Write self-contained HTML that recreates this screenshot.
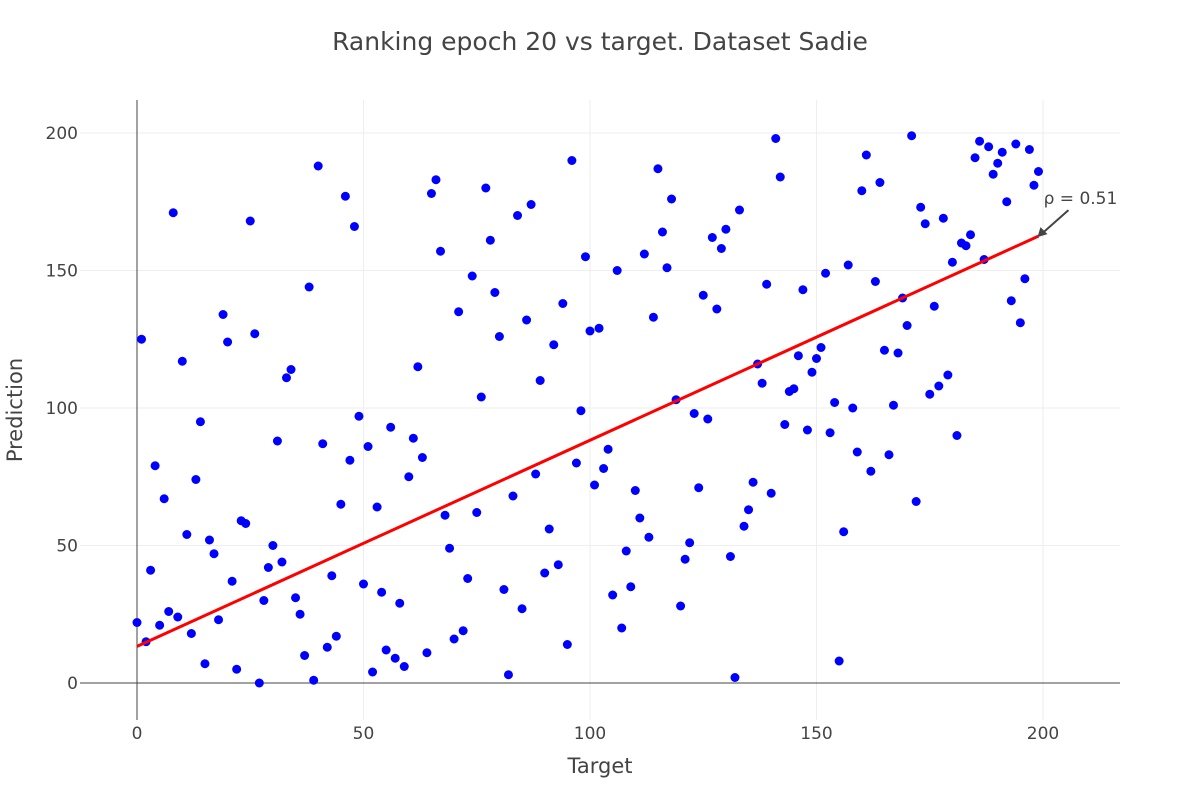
<!DOCTYPE html>
<html><head><meta charset="utf-8">
<style>
body{margin:0;background:#fff;}
svg{display:block;font-family:"DejaVu Sans","Liberation Sans",sans-serif;}
</style></head>
<body>
<svg id="chart" width="1200" height="800" viewBox="0 0 1200 800">
<text x="600" y="50" text-anchor="middle" font-size="25" fill="#444">Ranking epoch 20 vs target. Dataset Sadie</text>
<g id="grid"></g>
<g id="axes"></g>
<g id="points"></g>
<g id="fit"></g>
<text x="600" y="773" text-anchor="middle" font-size="21" fill="#444">Target</text>
<text transform="translate(22,410) rotate(-90)" text-anchor="middle" font-size="21" fill="#444">Prediction</text>
</svg>
<script>
const targets = Array.from({length:200},(_,i)=>i);
const predictions = [22,125,15,41,79,21,67,26,171,24,117,54,18,74,95,7,52,47,23,134,
124,37,5,59,58,168,127,0,30,42,50,88,44,111,114,31,25,10,144,1,
188,87,13,39,17,65,177,81,166,97,36,86,4,64,33,12,93,9,29,6,
75,89,115,82,11,178,183,157,61,49,16,135,19,38,148,62,104,180,161,142,
126,34,3,68,170,27,132,174,76,110,40,56,123,43,138,14,190,80,99,155,
128,72,129,78,85,32,150,20,48,35,70,60,156,53,133,187,164,151,176,103,
28,45,51,98,71,141,96,162,136,158,165,46,2,172,57,63,73,116,109,145,
69,198,184,94,106,107,119,143,92,113,118,122,149,91,102,8,55,152,100,84,
179,192,77,146,182,121,83,101,120,140,130,199,66,173,167,105,137,108,169,112,
153,90,160,159,163,191,197,154,195,185,189,193,175,139,196,131,147,194,181,186];
const xTicks = [0,50,100,150,200];
const yTicks = [0,50,100,150,200];
const fitX = [0,199];
const fitY = [13.3,162.5];
const annotationText = "ρ = 0.51";

const NS="http://www.w3.org/2000/svg";
const X0=137, XS=(1043-137)/200, Y0=683, YS=(683-133)/200;
const sx=v=>X0+v*XS, sy=v=>Y0-v*YS;
const L=80,R=1120,T=100,B=720;
function mk(tag,attrs,parent){const e=document.createElementNS(NS,tag);for(const k in attrs)e.setAttribute(k,attrs[k]);parent.appendChild(e);return e;}
const grid=document.getElementById('grid'),axes=document.getElementById('axes'),pts=document.getElementById('points'),fit=document.getElementById('fit');

xTicks.forEach(t=>{
  if(t!==0){const g=mk('line',{x1:sx(t),x2:sx(t),y1:T,y2:B,stroke:'#eeeeee','stroke-width':1},grid);
  
  }
  const lb=mk('text',{x:sx(t),y:739,'text-anchor':'middle','font-size':17,fill:'#444'},axes);
  lb.textContent=t;
  
  
});
yTicks.forEach(t=>{
  if(t!==0){const g=mk('line',{x1:L,x2:R,y1:sy(t),y2:sy(t),stroke:'#eeeeee','stroke-width':1},grid);
  
  }
  const lb=mk('text',{x:78,y:sy(t)+6,'text-anchor':'end','font-size':17,fill:'#444'},axes);
  lb.textContent=t;
  
  
});
const xz=mk('line',{x1:sx(0),x2:sx(0),y1:T,y2:B,stroke:'#444','stroke-width':1},axes);


const yz=mk('line',{x1:L,x2:R,y1:sy(0),y2:sy(0),stroke:'#444','stroke-width':1},axes);



targets.forEach((t,i)=>{
  const c=mk('circle',{cx:sx(t),cy:sy(predictions[i]),r:4.5,fill:'#0000ff'},pts);
  
  
});

const ln=mk('line',{x1:sx(fitX[0]),y1:sy(fitY[0]),x2:sx(fitX[1]),y2:sy(fitY[1]),stroke:'#ff0000','stroke-width':3},fit);



const ax=sx(fitX[1])-1, ay=sy(fitY[1])+1;
const ar=mk('line',{x1:ax+31,y1:ay-27,x2:ax+5,y2:ay-4,stroke:'#444','stroke-width':2},fit);


const ah=mk('path',{d:`M${ax} ${ay} L${ax+3} ${ay-10} L${ax+10} ${ay-3} Z`,fill:'#444'},fit);


const at=mk('text',{x:ax+43,y:ay-33,'text-anchor':'middle','font-size':17,fill:'#444'},fit);
at.textContent=annotationText;


</script>
</body></html>
